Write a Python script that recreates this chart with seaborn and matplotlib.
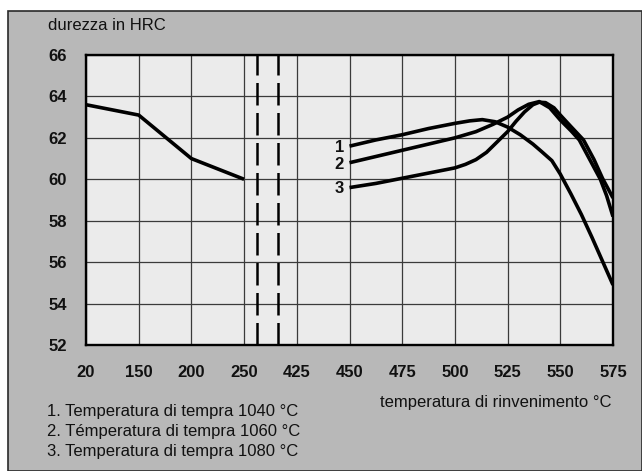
import numpy as np
import pandas as pd
import matplotlib
matplotlib.use("Agg")
import matplotlib.pyplot as plt
import seaborn as sns
from matplotlib.patches import Rectangle

# ---------------- data ----------------
tick_temps = [20, 150, 200, 250, 425, 450, 475, 500, 525, 550, 575]
tick_labels = ["20", "150", "200", "250", "425", "450", "475", "500", "525", "550", "575"]
y_ticks = [52, 54, 56, 58, 60, 62, 64, 66]
break_temps = [292, 362]   # dashed lines marking the axis break

# hardness after tempering at low temperatures (common curve)
c0_temp = [20, 150, 200, 250]
c0_hrc = [63.6, 63.1, 61.0, 60.0]

# 1. quench 1040 °C
c1_temp = [450, 462.5, 475, 487.5, 500, 507, 513, 519, 525, 531, 537, 541, 546, 550, 555, 560, 565, 570, 575]
c1_hrc = [61.6, 61.9, 62.15, 62.45, 62.7, 62.82, 62.88, 62.78, 62.52, 62.15, 61.7, 61.35, 60.9, 60.25, 59.3, 58.3, 57.2, 56.05, 54.9]

# 2. quench 1060 °C
c2_temp = [450, 462.5, 475, 487.5, 500, 510, 518, 525, 530, 535, 540, 545, 550, 555, 559, 564, 569, 572, 575]
c2_hrc = [60.8, 61.1, 61.4, 61.7, 62.0, 62.3, 62.65, 63.0, 63.35, 63.62, 63.75, 63.45, 62.86, 62.35, 61.9, 60.95, 60.0, 59.2, 58.2]

# 3. quench 1080 °C
c3_temp = [450, 462.5, 475, 487.5, 500, 505, 510, 515, 520, 525, 529, 533, 537, 540, 543, 547, 550, 555, 561, 566, 570, 575]
c3_hrc = [59.6, 59.8, 60.05, 60.3, 60.55, 60.72, 60.95, 61.3, 61.8, 62.3, 62.8, 63.25, 63.6, 63.72, 63.7, 63.45, 63.1, 62.55, 61.9, 60.95, 60.05, 59.1]

curve_names = ["0", "1", "2", "3"]
legend_lines = ["1. Temperatura di tempra 1040 °C",
                "2. Témperatura di tempra 1060 °C",
                "3. Temperatura di tempra 1080 °C"]
y_title = "durezza in HRC"
x_title = "temperatura di rinvenimento °C"

# ---------------- build table ----------------
frames = []
for name, t, h in zip(curve_names, [c0_temp, c1_temp, c2_temp, c3_temp],
                      [c0_hrc, c1_hrc, c2_hrc, c3_hrc]):
    frames.append(pd.DataFrame({"temp": t, "hrc": h, "curve": name}))
df = pd.concat(frames, ignore_index=True)

# ---------------- figure ----------------
plt.rcParams["font.family"] = ["Liberation Sans", "DejaVu Sans"]
W, H = 642, 471
fig = plt.figure(figsize=(W / 100, H / 100), dpi=100)
fig.patch.set_facecolor("white")
fig.patches.append(Rectangle((8 / W, 0), 1 - 8 / W, 1 - 11 / H, transform=fig.transFigure,
                             facecolor="#b8b8b8", edgecolor="#2a2a2a", lw=1.2, zorder=-10))

ax = fig.add_axes([86 / W, 1 - 345 / H, (613 - 86) / W, (345 - 55) / H])
ax.set_zorder(1)
ax.set_facecolor("#ebebeb")

sns.lineplot(data=df, x="temp", y="hrc", hue="curve", palette=["black"] * 4,
             estimator=None, sort=False, legend=False, lw=2.6, ax=ax, zorder=5)
for ln in ax.get_lines():
    ln.set_solid_joinstyle("round")
    ln.set_solid_capstyle("butt")

# broken, equally spaced temperature axis
idx = np.arange(len(tick_temps), dtype=float)
tt = np.asarray(tick_temps, dtype=float)


def fwd(x):
    return np.interp(np.asarray(x, dtype=float), tt, idx)


def inv(p):
    return np.interp(np.asarray(p, dtype=float), idx, tt)


ax.set_xscale("function", functions=(fwd, inv))
ax.set_xlim(tick_temps[0], tick_temps[-1])
ax.set_ylim(y_ticks[0], y_ticks[-1])
ax.set_xticks(tick_temps)
ax.set_xticklabels(tick_labels)
ax.set_yticks(y_ticks)
ax.minorticks_off()
ax.set_xlabel("")
ax.set_ylabel("")

ax.set_axisbelow(True)
ax.grid(True, color="#3a3a3a", lw=0.9)
for bt in break_temps:
    ax.axvline(bt, color="black", lw=1.8, ls=(0, (9, 3)), zorder=4)

for s in ax.spines.values():
    s.set_linewidth(1.7)
    s.set_color("black")
ax.tick_params(axis="y", length=0, pad=13.5, labelsize=12, labelcolor="#111111")
ax.tick_params(axis="x", length=0, pad=14.5, labelsize=12, labelcolor="#111111")
for lab in ax.get_xticklabels() + ax.get_yticklabels():
    lab.set_fontweight("bold")

# curve numbers
for lbl, t, h in zip(["1", "2", "3"], [c1_temp, c2_temp, c3_temp], [c1_hrc, c2_hrc, c3_hrc]):
    ax.annotate(lbl, (t[0], h[0]), xytext=(-4, -1), textcoords="offset points",
                ha="right", va="center", fontsize=12, fontweight="bold", color="#111111", zorder=6)

# texts
fig.text(48 / W, 1 - 25 / H, y_title, ha="left", va="center", fontsize=12, color="#111111")
fig.text(612 / W, 1 - 403 / H, x_title, ha="right", va="center", fontsize=12, color="#111111")
for i, line in enumerate(legend_lines):
    fig.text(47 / W, 1 - (411.7 + 20 * i) / H, line, ha="left", va="center", fontsize=12, color="#111111")

fig.savefig("out.png", dpi=100, facecolor=fig.get_facecolor())
